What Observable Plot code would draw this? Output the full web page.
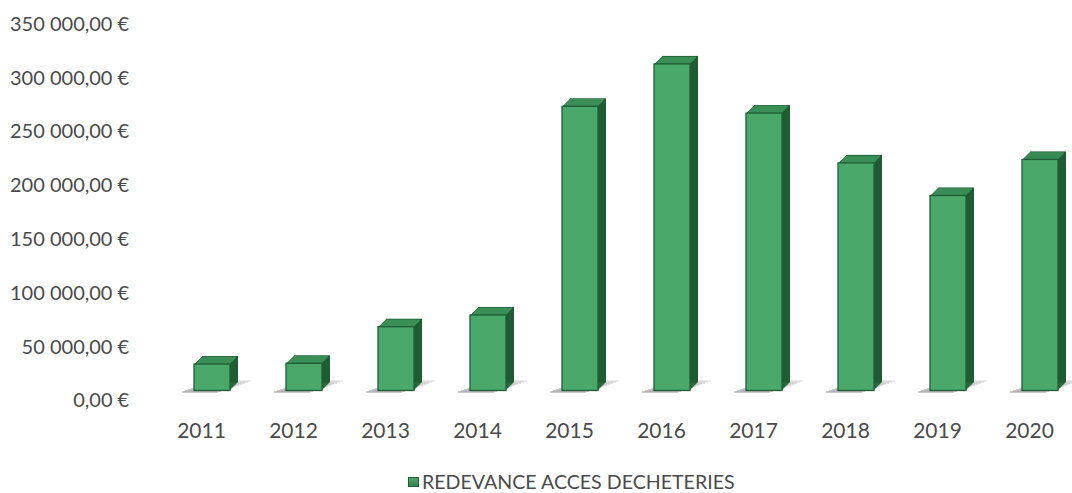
<!DOCTYPE html>
<html>
<head>
<meta charset="utf-8">
<script src="https://cdn.jsdelivr.net/npm/d3@7"></script>
<script src="https://cdn.jsdelivr.net/npm/@observablehq/plot@0.6"></script>
<style>
  html, body { margin: 0; padding: 0; background: #fff; }
  #wrap { position: relative; width: 1072px; height: 493px; overflow: hidden; }
  #legend { position: absolute; left: 408px; top: 470px; font-family: Lato, "Open Sans", sans-serif; font-weight: 400; font-size: 19.6px; color: #4a4a4a; line-height: 24px; white-space: nowrap; }
  #legend .sw { display: inline-block; width: 9px; height: 8px; background: linear-gradient(#4fa56c, #357f4d); border: 1px solid #1f5c33; margin-right: 3px; vertical-align: 2px; }
</style>
</head>
<body>
<div id="wrap"></div>
<script>
// ---- data ----
const years = ["2011", "2012", "2013", "2014", "2015", "2016", "2017", "2018", "2019", "2020"];
const values = [24600, 25300, 59300, 70200, 264200, 303600, 257900, 211600, 181300, 214800];
const yTicks = [0, 50000, 100000, 150000, 200000, 250000, 300000, 350000];
const yTickLabels = ["0,00 €", "50 000,00 €", "100 000,00 €", "150 000,00 €", "200 000,00 €", "250 000,00 €", "300 000,00 €", "350 000,00 €"];
const seriesName = "REDEVANCE ACCES DECHETERIES";

const data = years.map((year, i) => ({year, value: values[i]}));

// ---- styles ----
const frontColor = "#4aa86b";
const topColor = "#3a8f56";
const sideColor = "#2a6b3b";
const outlineColor = "#1f5c33";
const offset = 11;   // perspective shift of the bars
const depth = 8;     // 3D depth in px

const shadowMarks = d3.range(0, 12).map(i =>
  Plot.tickY(data, {x: "year", y: () => 0, dx: offset - 12 + 3 * i, dy: 1 - i, stroke: "#a8a8a8", strokeWidth: 1.5, strokeOpacity: 0.85 - i * 0.05})
);
const sideMarks = d3.range(1, depth + 1).map(i =>
  Plot.barY(data, {x: "year", y: "value", dx: offset + i, dy: -i, fill: i === depth ? outlineColor : sideColor})
);
const topMarks = d3.range(1, depth).map(i =>
  Plot.tickY(data, {x: "year", y: "value", dx: offset + i, dy: -i, stroke: topColor, strokeWidth: 1.5, insetLeft: 1, insetRight: 1})
);

const chart = Plot.plot({
  width: 1072,
  height: 470,
  marginTop: 14,
  marginBottom: 79.5,
  marginLeft: 170.7,
  marginRight: 12.8,
  style: {fontFamily: "Lato, 'Open Sans', sans-serif", fontSize: "20px", fontWeight: 400, color: "#4a4a4a", background: "#fff"},
  x: {domain: years, padding: 0.61, paddingOuter: 0.1, label: null},
  y: {domain: [0, 350000], label: null},
  marks: [
    ...shadowMarks,
    ...sideMarks,
    ...topMarks,
    Plot.barY(data, {x: "year", y: "value", dx: offset, fill: frontColor, stroke: outlineColor, strokeWidth: 1.3}),
    Plot.axisX({tickSize: 0, tickPadding: 32, fontSize: 21, label: null}),
    Plot.axisY({ticks: yTicks, tickSize: 0, tickPadding: 42, dy: 10, label: null,
      tickFormat: d => yTickLabels[yTicks.indexOf(d)]})
  ]
});

const wrap = document.getElementById("wrap");
wrap.appendChild(chart);
const legend = document.createElement("div");
legend.id = "legend";
legend.innerHTML = '<span class="sw"></span>';
legend.appendChild(document.createTextNode(seriesName));
wrap.appendChild(legend);
</script>
</body>
</html>
